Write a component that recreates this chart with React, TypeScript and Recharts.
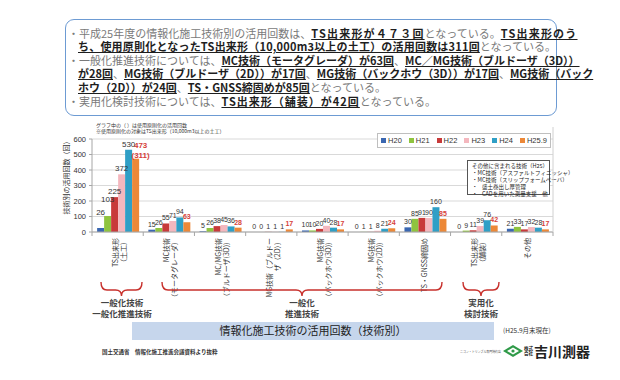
import { BarChart, Bar, XAxis, YAxis, CartesianGrid, LabelList } from 'recharts';

const CATEGORIES = [
  'TS出来形\n（土工）',
  'MC技術\n（モータグレーダ）',
  'MC/MG技術\n（ブルドーザ(3D)）',
  'MG技術（ブルドー\nザ（2D））',
  'MG技術\n（バックホウ(3D)）',
  'MG技術\n（バックホウ(2D)）',
  'TS・GNSS締固め',
  'TS出来形\n（舗装）',
  'その他',
];
const SERIES = ['H20', 'H21', 'H22', 'H23', 'H24', 'H25.9'];
const H20 = [26, 15, 5, 0, 10, 0, 30, 0, 21];
const H21 = [103, 26, 26, 0, 10, 1, 85, 9, 33];
const H22 = [225, 55, 38, 1, 20, 1, 91, 11, 17];
const H23 = [372, 71, 45, 1, 40, 8, 90, 39, 32];
const H24 = [530, 94, 36, 1, 28, 21, 160, 76, 28];
const H259 = [473, 63, 28, 17, 17, 24, 85, 42, 17];
// 使用原則化の活用回数 (only TS出来形 土工)
const PRINCIPLE = [311, null, null, null, null, null, null, null, null];
const Y_TICKS = [0, 100, 200, 300, 400, 500, 600];

const COLORS = ['#3a67b1', '#8fc43f', '#c83a3a', '#f4b7be', '#2f9fc6', '#ec8838'];
const KEYS = ['h20', 'h21', 'h22', 'h23', 'h24', 'h259'];
const RED = '#d63f3a';
const JP = "'Noto Sans CJK JP', 'Noto Sans', sans-serif";
const NUM = "'Liberation Sans', 'Noto Sans CJK JP', sans-serif";

// labels that were lifted by hand in the original
const LABEL_LIFT: Record<string, number> = { '0-0': 10, '0-1': 11 };

const rows = CATEGORIES.map((name, i) => ({
  name,
  h20: H20[i],
  h21: H21[i],
  h22: H22[i],
  h23: H23[i],
  h24: H24[i],
  h259: H259[i],
}));

const makeLabel = (si: number) => (props: any) => {
  const { x, y, width, value, index } = props;
  const cx = x + width / 2;
  const first = index === 0;
  const fs = first ? 8 : 7;
  const isLast = si === SERIES.length - 1;
  const lift = LABEL_LIFT[`${index}-${si}`] ?? 0;
  if (isLast && PRINCIPLE[index] != null) {
    return (
      <g fontFamily={NUM} fontSize={fs} fontWeight={700} fill={RED} textAnchor="middle">
        <text x={cx + 5} y={y - 11}>{value}</text>
        <text x={cx + 5} y={y - 1}>({PRINCIPLE[index]})</text>
      </g>
    );
  }
  return (
    <text
      x={cx}
      y={y - 3 - lift}
      textAnchor="middle"
      fontFamily={NUM}
      fontSize={fs}
      fontWeight={isLast ? 700 : 400}
      fill={isLast ? RED : '#333'}
    >
      {value}
    </text>
  );
};

function CategoryTick(props: any) {
  const { x, y, payload, width, visibleTicksCount } = props;
  const half = width / (visibleTicksCount || CATEGORIES.length) / 2;
  const lines = String(payload.value).split('\n');
  const top = y + 6;
  const start = lines.length > 1 ? -2 : 0;
  return (
    <g>
      <line x1={x - half} x2={x - half} y1={y} y2={y + 4} stroke="#a6a6a6" />
      {payload.index === CATEGORIES.length - 1 && (
        <line x1={x + half} x2={x + half} y1={y} y2={y + 4} stroke="#a6a6a6" />
      )}
      {lines.map((t, i) => (
        <text
          key={i}
          transform={`translate(${x + start + i * 8},${top}) rotate(-90)`}
          textAnchor="end"
          dy="0.35em"
          fontFamily={JP}
          fontSize={7}
          fill="#333"
        >
          {t}
        </text>
      ))}
    </g>
  );
}

// sp = extra letter spacing of the bold parts on that line
const INTRO = [
  { x: 68, sp: 1.2, parts: [['・平成25年度の情報化施工技術別の活用回数は、', 0], ['TS出来形が４７３回', 1], ['となっている。', 0], ['TS出来形のう', 1]] },
  { x: 78, sp: 0.2, parts: [['ち、使用原則化となったTS出来形（10,000m3以上の土工）の活用回数は311回', 1], ['となっている。', 0]] },
  { x: 68, sp: 0, parts: [['・一般化推進技術については、', 0], ['MC技術（モータグレーダ）が63回', 1], ['、', 0], ['MC／MG技術（ブルドーザ（3D））', 1]] },
  { x: 78, sp: 0, parts: [['が28回', 1], ['、', 0], ['MG技術（ブルドーザ（2D））が17回', 1], ['、', 0], ['MG技術（バックホウ（3D））が17回', 1], ['、', 0], ['MG技術（バック', 1]] },
  { x: 78, sp: 0, parts: [['ホウ（2D））が24回', 1], ['、', 0], ['TS・GNSS締固めが85回', 1], ['となっている。', 0]] },
  { x: 68, sp: 1, parts: [['・実用化検討技術については、', 0], ['TS出来形（舗装）が42回', 1], ['となっている。', 0]] },
];

const NOTE = ['MC技術（アスファルトフィニッシャ）', 'MC技術（スリップフォームペーバ）', '盛土巻出し厚管理', 'CADを用いた測量支援　他'];

function brace(x1: number, x2: number, top: number) {
  const xm = (x1 + x2) / 2;
  const arm = top + 8;
  const tip = top + 14;
  const r = 6;
  return `M${x1},${top} Q${x1},${arm} ${x1 + r},${arm} L${xm - r},${arm} Q${xm},${arm} ${xm},${tip} Q${xm},${arm} ${xm + r},${arm} L${x2 - r},${arm} Q${x2},${arm} ${x2},${top}`;
}

export default function App() {
  return (
    <div style={{ position: 'absolute', left: 0, top: 0, width: 620, height: 380, background: '#fff', fontFamily: JP, overflow: 'hidden' }}>
      {/* intro box */}
      <div
        style={{
          position: 'absolute',
          left: 65,
          top: 19,
          width: 490,
          height: 95,
          border: '1.5px solid #6d9bd3',
          borderRadius: 9,
        }}
      />
      {INTRO.map((line, li) => (
        <div
          key={li}
          style={{
            position: 'absolute',
            left: line.x,
            top: 26.5 + li * 13.6,
            fontSize: 11,
            lineHeight: '13px',
            whiteSpace: 'nowrap',
          }}
        >
          {line.parts.map(([t, b], i) => (
            <span
              key={i}
              style={
                b
                  ? { color: '#1e1e1e', fontWeight: 700, textDecoration: 'underline', letterSpacing: line.sp }
                  : { color: '#7a7a7a' }
              }
            >
              {t}
            </span>
          ))}
        </div>
      ))}

      <div style={{ position: 'absolute', left: 0, top: 0 }}>
        <BarChart
          width={620}
          height={380}
          data={rows}
          margin={{ top: 139, right: 67, bottom: 118, left: 62 }}
          barCategoryGap="10%"
          barGap={0}
        >
          <CartesianGrid vertical={false} stroke="#d9d9d9" />
          <XAxis
            dataKey="name"
            interval={0}
            tickLine={false}
            tickSize={0}
            tickMargin={0}
            axisLine={{ stroke: '#a6a6a6' }}
            tick={<CategoryTick />}
          />
          <YAxis
            domain={[0, 600]}
            ticks={Y_TICKS}
            interval={0}
            width={30}
            tickSize={3}
            tickMargin={3}
            axisLine={{ stroke: '#a6a6a6' }}
            tickLine={{ stroke: '#a6a6a6' }}
            tick={{ fontSize: 7.5, fill: '#333', fontFamily: NUM }}
          />
          {KEYS.map((k, si) => (
            <Bar
              key={k}
              dataKey={k}
              name={SERIES[si]}
              fill={COLORS[si]}
              minPointSize={0.01}
              isAnimationActive={false}
            >
              <LabelList dataKey={k} content={makeLabel(si)} />
            </Bar>
          ))}
        </BarChart>
      </div>

      {/* legend */}
      <div
        style={{
          position: 'absolute',
          left: 377,
          top: 133,
          width: 172,
          height: 13,
          border: '1px solid #bfbfbf',
          background: '#fff',
          display: 'flex',
          alignItems: 'center',
          justifyContent: 'center',
          gap: 7,
          fontFamily: NUM,
          fontSize: 7.5,
          color: '#333',
        }}
      >
        {SERIES.map((s, i) => (
          <div key={s} style={{ display: 'flex', alignItems: 'center', gap: 2 }}>
            <span style={{ width: 5, height: 5, background: COLORS[i], display: 'inline-block' }} />
            <span>{s}</span>
          </div>
        ))}
      </div>

      {/* note box */}
      <div
        style={{
          position: 'absolute',
          left: 467,
          top: 160,
          width: 83,
          height: 35,
          border: '1px solid #555',
          background: '#fff',
          fontSize: 5.5,
          lineHeight: '7px',
          color: '#222',
          padding: '2px 0 0 4px',
          boxSizing: 'border-box',
          whiteSpace: 'nowrap',
        }}
      >
        <div>その他に含まれる技術（H25）</div>
        {NOTE.map((t) => (
          <div key={t} style={{ display: 'flex' }}>
            <span style={{ width: 10 }}>・</span>
            <span>{t}</span>
          </div>
        ))}
      </div>

      <svg width={620} height={380} style={{ position: 'absolute', left: 0, top: 0, pointerEvents: 'none' }} fontFamily={JP}>
        <line x1={553} x2={553} y1={127} y2={232} stroke="#d0d0d0" />
        <text x={96} y={127} fontSize={5} fill="#333">グラフ中の（ ）は使用原則化の活用回数</text>
        <text x={96} y={133} fontSize={5} fill="#333">※使用原則化の対象はTS出来形（10,000m3以上の土工）</text>
        <text transform="translate(67,176) rotate(-90)" textAnchor="middle" dy="0.35em" fontSize={7} fill="#333">
          技術別の活用回数（回）
        </text>

        <g fill="none" stroke="#c8302c" strokeWidth={1.4}>
          <path d={brace(101, 142, 282)} />
          <path d={brace(162, 442, 282)} />
          <path d={brace(463, 499, 282)} />
        </g>
        <g fontSize={8.5} fontWeight={700} fill="#444" textAnchor="middle">
          <text x={122} y={306}>一般化技術</text>
          <text x={122} y={317}>一般化推進技術</text>
          <text x={302} y={306}>一般化</text>
          <text x={302} y={317}>推進技術</text>
          <text x={481} y={306}>実用化</text>
          <text x={481} y={317}>検討技術</text>
        </g>

        <rect x={132} y={322} width={362} height={18} fill="#c6d6ec" />
        <text x={313} y={335} textAnchor="middle" fontSize={11} fill="#222">情報化施工技術の活用回数（技術別）</text>
        <text x={503} y={333} fontSize={6.5} fill="#333">(H25.9月末現在)</text>

        <text x={102} y={354} fontSize={5.5} fontWeight={700} fill="#333">国土交通省　情報化施工推進会議資料より抜粋</text>
        <text x={460} y={353} fontSize={3.5} textLength={41} lengthAdjust="spacingAndGlyphs" fill="#555">
          ニコン・トリンブル専門特約店
        </text>
        <polygon points="503,351 513,345 523,351 513,357" fill="#2f9a48" />
        <polygon points="507,351 513,347.5 519,351 513,354.5" fill="#fff" />
        <circle cx={513} cy={351} r={1.6} fill="#2f9a48" />
        <text x={524} y={350} fontSize={4.5} fontWeight={700} fill="#222">株式</text>
        <text x={524} y={355} fontSize={4.5} fontWeight={700} fill="#222">会社</text>
        <text x={534} y={357} fontSize={14} fontWeight={700} fill="#222">吉川測器</text>
      </svg>
    </div>
  );
}
